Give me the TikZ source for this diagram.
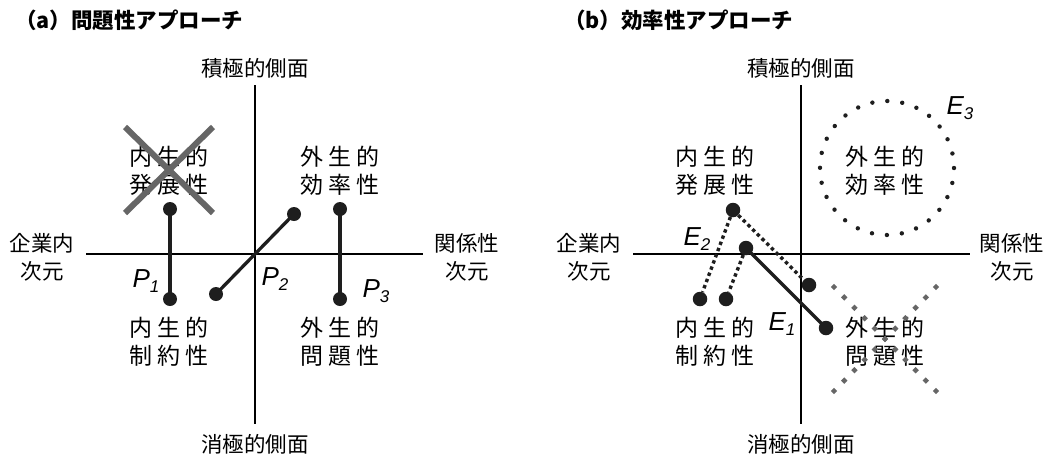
\documentclass[tikz,border=0pt]{standalone}
\usepackage{fontspec}
\usetikzlibrary{calc}
\newfontfamily\jp{Noto Sans CJK JP}
\newfontfamily\ar{Liberation Sans}
\definecolor{ink}{HTML}{1E1E1E}
\definecolor{xgray}{HTML}{666666}
\newcommand{\gp}{\hspace{5pt}}
\newcommand{\plbl}[2]{{\ar\itshape\fontsize{26}{26}\selectfont #1\raisebox{-4.5pt}{\fontsize{17}{17}\selectfont #2}}}
\begin{document}
\begin{tikzpicture}[x=1pt,y=-1pt,
  title/.style={anchor=west,inner sep=0,font=\jp\bfseries\fontsize{21.5}{24}\selectfont},
  axlbl/.style={inner sep=0,align=center,font=\jp\fontsize{21.5}{28}\selectfont},
  qlbl/.style={inner sep=0,align=center,font=\jp\fontsize{23}{28}\selectfont},
  axisline/.style={line width=1.6pt,black},
  seg/.style={line width=3.3pt,ink},
  dotseg/.style={line width=3.4pt,ink,dash pattern=on 3.4pt off 3.2pt},
  pdot/.style={circle,fill=ink,inner sep=0,minimum size=14pt},
  bigx/.style={line width=6pt,xgray},
  dotcirc/.style={line width=4.4pt,ink,line cap=round,dash pattern=on 0pt off 15.05pt}]
\useasboundingbox (0,0) rectangle (1054,456);
\fill[white] (0,0) rectangle (1054,456);

% ---------------- panel (a)
\node[title] (ta) at (15,20) {（a）問題性アプローチ};
\coordinate (aT) at (255,85);
\coordinate (aB) at (255,424);
\coordinate (aL) at (86,254);
\coordinate (aR) at (423,254);
\draw[axisline] (aT) -- (aB);
\draw[axisline] (aL) -- (aR);
\node[axlbl] (aTop) at (255,68) {積極的側面};
\node[axlbl] (aBot) at (255,444) {消極的側面};
\node[axlbl] (aLeft) at (42,257) {企業内\\次元};
\node[axlbl] (aRight) at (467,257) {関係性\\次元};
\node[qlbl] (aQ1) at (169,171) {内\gp 生\gp 的\\発\gp 展\gp 性};
\node[qlbl] (aQ2) at (340,171) {外\gp 生\gp 的\\効\gp 率\gp 性};
\node[qlbl] (aQ3) at (169,342) {内\gp 生\gp 的\\制\gp 約\gp 性};
\node[qlbl] (aQ4) at (340,342) {外\gp 生\gp 的\\問\gp 題\gp 性};
\coordinate (xa1) at (125,127);
\coordinate (xa2) at (213,213);
\coordinate (xa3) at (213,127);
\coordinate (xa4) at (125,213);
\draw[bigx] (xa1) -- (xa2);
\draw[bigx] (xa3) -- (xa4);
\node[pdot] (p1t) at (170,209) {};
\node[pdot] (p1b) at (170,299) {};
\node[pdot] (p2t) at (294,214) {};
\node[pdot] (p2b) at (216,294) {};
\node[pdot] (p3t) at (340,209) {};
\node[pdot] (p3b) at (340,299) {};
\draw[seg] (p1t.center) -- (p1b.center);
\draw[seg] (p2t.center) -- (p2b.center);
\draw[seg] (p3t.center) -- (p3b.center);
\node (lp1) at (146,281) {\plbl{P}{1}};
\node (lp2) at (275,279) {\plbl{P}{2}};
\node (lp3) at (376,291) {\plbl{P}{3}};

% ---------------- panel (b)
\node[title] (tb) at (564,20) {（b）効率性アプローチ};
\coordinate (bT) at (801,85);
\coordinate (bB) at (801,424);
\coordinate (bL) at (633,254);
\coordinate (bR) at (970,254);
\draw[axisline] (bT) -- (bB);
\draw[axisline] (bL) -- (bR);
\node[axlbl] (bTop) at (801,68) {積極的側面};
\node[axlbl] (bBot) at (801,444) {消極的側面};
\node[axlbl] (bLeft) at (589,257) {企業内\\次元};
\node[axlbl] (bRight) at (1012,257) {関係性\\次元};
\node[qlbl] (bQ1) at (715,171) {内\gp 生\gp 的\\発\gp 展\gp 性};
\node[qlbl] (bQ2) at (885,171) {外\gp 生\gp 的\\効\gp 率\gp 性};
\node[qlbl] (bQ3) at (715,342) {内\gp 生\gp 的\\制\gp 約\gp 性};
\node[qlbl] (bQ4) at (885,342) {外\gp 生\gp 的\\問\gp 題\gp 性};
\coordinate (cc) at (887,168);
\draw[dotcirc] (cc) circle[radius=67];
\coordinate (xb1) at (834,287);
\coordinate (xb2) at (936,391);
\coordinate (xb3) at (936,287);
\coordinate (xb4) at (834,391);
\foreach \t in {0,...,10}{
  \fill[xgray] ($(xb1)!\t/10!(xb2)$) +(0,-3.2) -- +(3.2,0) -- +(0,3.2) -- +(-3.2,0) -- cycle;
  \fill[xgray] ($(xb3)!\t/10!(xb4)$) +(0,-3.2) -- +(3.2,0) -- +(0,3.2) -- +(-3.2,0) -- cycle;
}
\node[pdot,minimum size=14.5pt] (h1) at (733,210) {};
\node[pdot,minimum size=14.5pt] (h2) at (746,248) {};
\node[pdot,minimum size=14.5pt] (e2a) at (700,299) {};
\node[pdot,minimum size=14.5pt] (e2b) at (726,299) {};
\node[pdot,minimum size=14.5pt] (e2c) at (809,285) {};
\node[pdot,minimum size=14.5pt] (e1) at (826,328) {};
\draw[dotseg] (h1) -- (e2a);
\draw[dotseg] (h1) -- (e2c);
\draw[dotseg] (h2) -- (e2b);
\draw[seg] (h2.center) -- (e1.center);
\node (le1) at (782,324) {\plbl{E}{1}};
\node (le2) at (697,239) {\plbl{E}{2}};
\node (le3) at (960,108) {\plbl{E}{3}};
\end{tikzpicture}
\end{document}
